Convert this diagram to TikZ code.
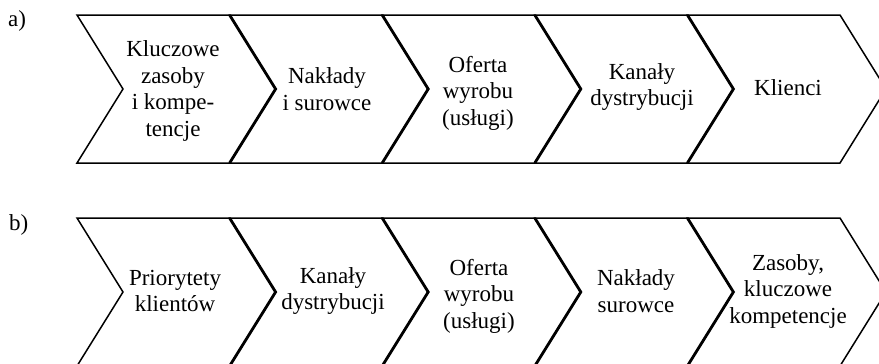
\documentclass[tikz,border=0pt]{standalone}
\usepackage{fontspec}
\setmainfont{Liberation Serif}
\begin{document}
\begin{tikzpicture}[x=1pt,y=-1pt,
  chev/.style={draw=black,line width=1.5pt,line join=miter},
  sep/.style={draw=black,line width=2.8pt},
  lbl/.style={align=center,font=\fontsize{23}{26.5}\selectfont,inner sep=0pt},
  tag/.style={anchor=base west,font=\fontsize{23}{26.5}\selectfont,inner sep=0pt}]
\useasboundingbox (0,0) rectangle (879,364);
\clip (0,0) rectangle (879,364);
\def\W{152.6}\def\D{46}\def\H{148}
% row a
\foreach \i in {0,...,4}{
  \pgfmathsetmacro\xl{77+\i*\W}
  \draw[chev] (\xl,15) -- (\xl+\W,15) -- (\xl+\W+\D,15+\H/2) -- (\xl+\W,15+\H) -- (\xl,15+\H) -- (\xl+\D,15+\H/2) -- cycle;
}
\foreach \i in {1,...,4}{
  \pgfmathsetmacro\xl{77+\i*\W}
  \draw[sep] (\xl,15) -- (\xl+\D,15+\H/2) -- (\xl,15+\H);
}
% row b
\foreach \i in {0,...,4}{
  \pgfmathsetmacro\xl{77+\i*\W}
  \draw[chev] (\xl,218) -- (\xl+\W,218) -- (\xl+\W+\D,218+\H/2) -- (\xl+\W,218+\H) -- (\xl,218+\H) -- (\xl+\D,218+\H/2) -- cycle;
}
\foreach \i in {1,...,4}{
  \pgfmathsetmacro\xl{77+\i*\W}
  \draw[sep] (\xl,218) -- (\xl+\D,218+\H/2) -- (\xl,218+\H);
}
\node[tag] (ta) at (8,27) {a)};
\node[tag] (tb) at (9,230) {b)};
\node[lbl] (a1) at (173,91) {Kluczowe\\zasoby\\i kompe-\\tencje};
\node[lbl] (a2) at (327,89) {Nakłady\\i surowce};
\node[lbl] (a3) at (478,93) {Oferta\\wyrobu\\(usługi)};
\node[lbl] (a4) at (642,87) {Kanały\\dystrybucji};
\node[lbl] (a5) at (788,88) {Klienci};
\node[lbl] (b1) at (175,291) {Priorytety\\klientów};
\node[lbl] (b2) at (333,291) {Kanały\\dystrybucji};
\node[lbl] (b3) at (479,296) {Oferta\\wyrobu\\(usługi)};
\node[lbl] (b4) at (636,291) {Nakłady\\surowce};
\node[lbl] (b5) at (788,291) {Zasoby,\\kluczowe\\kompetencje};
\end{tikzpicture}
\end{document}
